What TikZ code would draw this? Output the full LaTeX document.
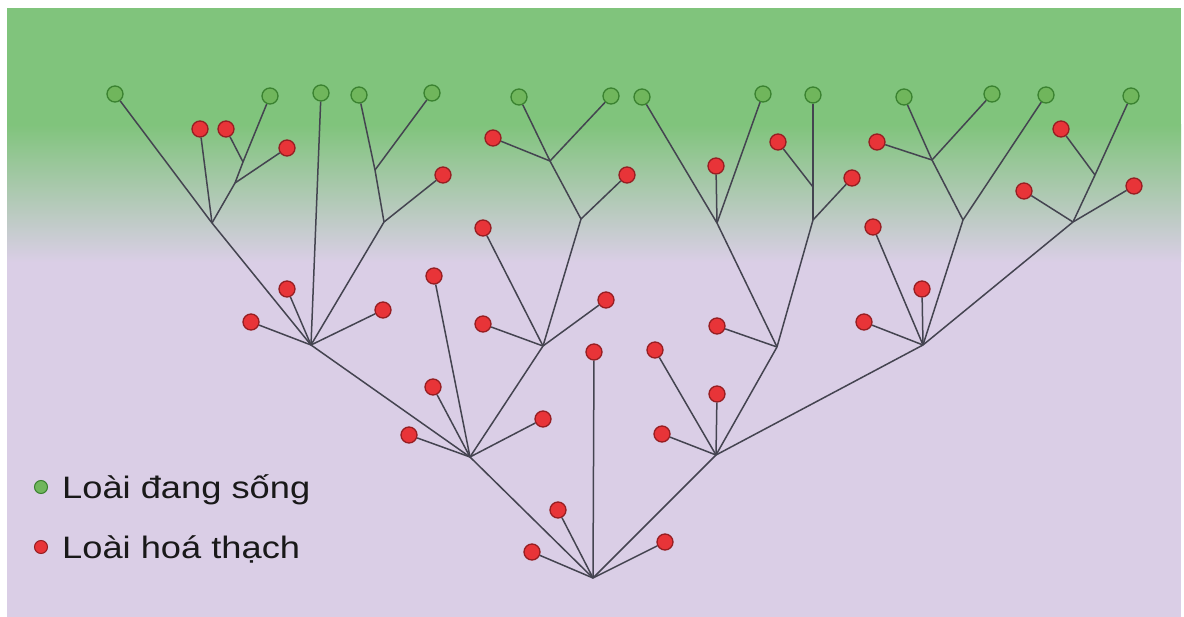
\documentclass[tikz,border=0pt]{standalone}
\usepackage{fontspec}
\setmainfont{Liberation Sans}
\definecolor{bgGreen}{RGB}{128,196,124}
\definecolor{bgMid}{RGB}{184,214,190}
\definecolor{bgLav}{RGB}{218,206,230}
\definecolor{lineGray}{RGB}{68,68,80}
\definecolor{livingFill}{RGB}{112,182,92}
\definecolor{livingBorder}{RGB}{58,130,48}
\definecolor{fossilFill}{RGB}{232,52,56}
\definecolor{fossilBorder}{RGB}{150,30,34}
\begin{document}
\begin{tikzpicture}[x=1pt,y=-1pt,
  branch/.style={draw=lineGray, line width=1.5pt},
  living/.style={circle, draw=livingBorder, fill=livingFill, line width=1.3pt, minimum size=16pt, inner sep=0pt},
  fossil/.style={circle, draw=fossilBorder, fill=fossilFill, line width=1.3pt, minimum size=16pt, inner sep=0pt},
  legdot/.style={circle, line width=1pt, minimum size=13pt, inner sep=0pt},
  legtext/.style={anchor=base west, inner sep=0pt, text=black!90, font=\fontsize{31}{37}\selectfont}]
\useasboundingbox (0,0) rectangle (1184,617);
\fill[white] (0,0) rectangle (1184,617);
% background
\fill[bgLav] (7,8) rectangle (1181,617);
\fill[bgGreen] (7,8) rectangle (1181,125);
\shade[top color=bgGreen, middle color=bgMid, bottom color=bgLav] (7,124.5) rectangle (1181,262);

% junctions
\coordinate (r0) at (593,578);
\coordinate (jA) at (470,457);
\coordinate (jB) at (716,455);
\coordinate (jC) at (543,346);
\coordinate (jD) at (311,345);
\coordinate (jE) at (581,219);
\coordinate (jF) at (550,161);
\coordinate (jG) at (212,223);
\coordinate (jI) at (235,183);
\coordinate (jJ) at (243,162);
\coordinate (jH) at (384,222);
\coordinate (jK) at (375,170);
\coordinate (jL) at (777,347);
\coordinate (jN) at (717,223);
\coordinate (jO) at (813,220);
\coordinate (jP) at (813,187);
\coordinate (jM) at (923,345);
\coordinate (jQ) at (963,220);
\coordinate (jS) at (932,160);
\coordinate (jR) at (1073,222);
\coordinate (jT) at (1095,175);

% living species
\foreach \n/\x/\y in {g1/115/94, g2/270/96, g3/321/93, g4/359/95, g5/432/93,
  g6/519/97, g7/611/96, g8/642/97, g9/763/94, g10/813/95, g11/904/97,
  g12/992/94, g13/1046/95, g14/1131/96}
  \node[living] (\n) at (\x,\y) {};

% fossil species
\foreach \n/\x/\y in {f1/200/129, f2/226/129, f3/287/148, f4/443/175, f5/493/138,
  f6/627/175, f7/716/166, f8/778/142, f9/852/178, f10/877/142, f11/1061/129,
  f12/1024/191, f13/1134/186, f14/483/228, f15/873/227, f16/287/289,
  f17/251/322, f18/383/310, f19/434/276, f20/483/324, f21/606/300,
  f22/594/352, f23/717/326, f24/655/350, f25/864/322, f26/922/289,
  f27/433/387, f28/717/394, f29/543/419, f30/409/435, f31/662/434,
  f32/558/510, f33/532/552, f34/665/542}
  \node[fossil] (\n) at (\x,\y) {};

% branches
\foreach \a/\b in {r0/jA, r0/jB, r0/f22, r0/f32, r0/f33, r0/f34,
  jA/jD, jA/jC, jA/f19, jA/f27, jA/f29, jA/f30,
  jC/jE, jC/f14, jC/f20, jC/f21,
  jE/jF, jE/f6, jF/g6, jF/g7, jF/f5,
  jD/g3, jD/jG, jD/jH, jD/f16, jD/f17, jD/f18,
  jG/g1, jG/jI, jG/f1, jI/jJ, jI/f3, jJ/g2, jJ/f2,
  jH/jK, jH/f4, jK/g4, jK/g5,
  jB/jL, jB/jM, jB/f24, jB/f28, jB/f31,
  jL/jN, jL/jO, jL/f23, jN/g8, jN/g9, jN/f7,
  jO/jP, jO/f9, jP/g10, jP/f8,
  jM/jQ, jM/jR, jM/f15, jM/f25, jM/f26,
  jQ/jS, jQ/g13, jS/g11, jS/g12, jS/f10,
  jR/jT, jR/f12, jR/f13, jT/g14, jT/f11}
  \draw[branch] (\a) -- (\b);

% legend
\node[legdot, draw=livingBorder, fill=livingFill] (legLiving) at (41,487) {};
\node[legdot, draw=fossilBorder, fill=fossilFill] (legFossil) at (41,547) {};
\node[legtext] (txtLiving) at (62,498) {\scalebox{1.17}[1]{Loài đang sống}};
\node[legtext] (txtFossil) at (62,558) {\scalebox{1.17}[1]{Loài hoá thạch}};
\end{tikzpicture}
\end{document}
